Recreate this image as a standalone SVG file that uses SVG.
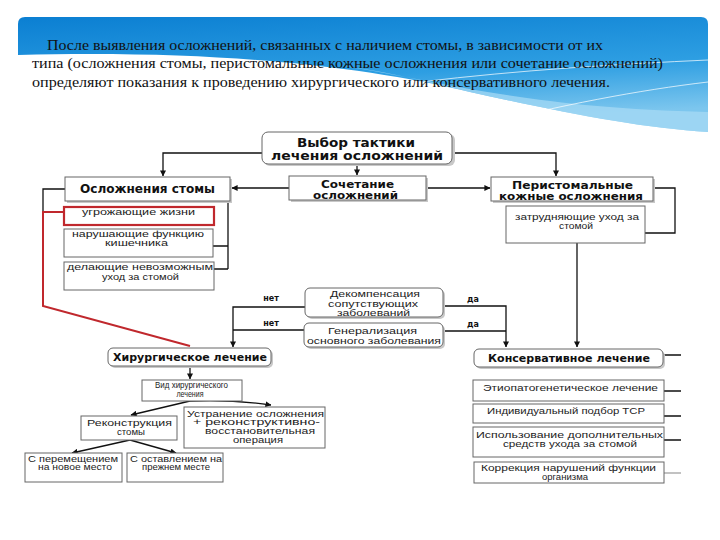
<svg xmlns="http://www.w3.org/2000/svg" width="720" height="540" viewBox="0 0 720 540">
<defs>
<linearGradient id="bg" x1="0" y1="0" x2="0.3" y2="1">
<stop offset="0" stop-color="#0b7fd2"/>
<stop offset="0.6" stop-color="#2d9ee2"/>
<stop offset="1" stop-color="#7cc6ee"/>
</linearGradient>
<marker id="ar" viewBox="0 0 8 8" refX="7.5" refY="4" markerWidth="6" markerHeight="6" orient="auto" markerUnits="userSpaceOnUse">
<path d="M0,0 L8,4 L0,8 Z" fill="#111"/>
</marker>
<style>
.hd{font-family:"Liberation Serif","Times New Roman",serif;font-size:14px;fill:#111}
.b{fill:#fff;stroke:#666;stroke-width:1}
.sh{fill:#c8c8c8}
.red{fill:#fff;stroke:#c0282d;stroke-width:2.2}
.tb{font-family:"DejaVu Sans",Verdana,sans-serif;font-weight:bold;fill:#111;text-anchor:middle}
.t{font-family:"Liberation Sans",Arial,sans-serif;fill:#222;text-anchor:middle;font-size:8.5px}
.ln{fill:none;stroke:#111;stroke-width:1.3}
.lg{fill:none;stroke:#999;stroke-width:1.2}
.lr{fill:none;stroke:#c0282d;stroke-width:2}
</style>
</defs>
<rect width="720" height="540" fill="#fff"/>
<g id="banner">
<path d="M18,24 Q18,17 25,17 H701 Q708,17 708,24 V132 C640,128 560,112 470,92 C360,66 220,50 18,55 Z" fill="url(#bg)"/>
<path d="M330,64 C430,78 520,108 708,112 V132 C640,128 560,112 470,92 C420,80 380,70 330,64 Z" fill="#a9dcf5" opacity="0.7"/>
<path d="M420,82 C520,70 620,64 708,60" fill="none" stroke="#fff" stroke-width="1" opacity="0.7"/>
<path d="M470,128 C560,105 640,90 708,82" fill="none" stroke="#fff" stroke-width="1" opacity="0.7"/>
<text class="hd" x="47" y="50" textLength="556" lengthAdjust="spacingAndGlyphs">После выявления осложнений, связанных с наличием стомы, в зависимости от их</text>
<text class="hd" x="32" y="68" textLength="631" lengthAdjust="spacingAndGlyphs">типа (осложнения стомы, перистомальные кожные осложнения или сочетание осложнений)</text>
<text class="hd" x="32" y="87" textLength="578" lengthAdjust="spacingAndGlyphs">определяют показания к проведению хирургического или консервативного лечения.</text>
</g>
<g id="connectors">
<path class="ln" d="M262,153 H163 V176" marker-end="url(#ar)"/>
<path class="ln" d="M357,164 V175" marker-end="url(#ar)"/>
<path class="ln" d="M452,153 H556 V176" marker-end="url(#ar)"/>
<path class="ln" d="M289,188 H232" marker-end="url(#ar)"/>
<path class="ln" d="M426,188 H490" marker-end="url(#ar)"/>
<path class="ln" d="M65,189 H43 V212"/>
<path class="ln" d="M228,201 V269 M213,246 H228 M214,269 H228"/>
<path class="lr" d="M64,212 H43 V306 L190,346"/>
<path class="ln" d="M653,188 H675 V233 H645"/>
<path class="ln" d="M577,243 V347" marker-end="url(#ar)"/>
<path class="ln" d="M305,307 H233 V347" marker-end="url(#ar)"/>
<path class="ln" d="M304,330 H233"/>
<path class="ln" d="M443,306 H506 V347" marker-end="url(#ar)"/>
<path class="ln" d="M443,331 H506"/>
<path class="ln" d="M190,366 V379" marker-end="url(#ar)"/>
<path class="ln" d="M190,401 L131,415" marker-end="url(#ar)"/>
<path class="ln" d="M190,401 Q230,399 271,405" marker-end="url(#ar)"/>
<path class="ln" d="M130,440 L72,453" marker-end="url(#ar)"/>
<path class="ln" d="M130,440 L176,453" marker-end="url(#ar)"/>
<path class="ln" d="M663,355 H681 M664,391 H681 M664,416 H681 M664,440 H681"/>
<path class="lg" d="M664,473 H681"/>
</g>
<g id="n-top">
<rect class="sh" x="264" y="134" width="191" height="32" rx="6"/>
<rect class="b" x="262" y="132" width="190" height="32" rx="6"/>
<text class="tb" x="356" y="146.5" font-size="12" textLength="118" lengthAdjust="spacingAndGlyphs">Выбор тактики</text>
<text class="tb" x="357" y="160" font-size="12" textLength="172" lengthAdjust="spacingAndGlyphs">лечения осложнений</text>
</g>
<g id="n-stoma">
<rect class="sh" x="67" y="179" width="165" height="24"/>
<rect class="b" x="65" y="177" width="165" height="24"/>
<text class="tb" x="147.5" y="193" font-size="11.5" textLength="135" lengthAdjust="spacingAndGlyphs">Осложнения стомы</text>
</g>
<g id="n-combo">
<rect class="sh" x="291" y="178" width="137" height="24"/>
<rect class="b" x="289" y="176" width="137" height="24"/>
<text class="tb" x="357.5" y="188" font-size="10" textLength="73" lengthAdjust="spacingAndGlyphs">Сочетание</text>
<text class="tb" x="355.5" y="199" font-size="10" textLength="85" lengthAdjust="spacingAndGlyphs">осложнений</text>
</g>
<g id="n-peri">
<rect class="sh" x="493" y="179" width="162" height="24"/>
<rect class="b" x="491" y="177" width="162" height="24"/>
<text class="tb" x="572.5" y="189" font-size="10" textLength="121" lengthAdjust="spacingAndGlyphs">Перистомальные</text>
<text class="tb" x="571" y="199.5" font-size="10" textLength="144" lengthAdjust="spacingAndGlyphs">кожные осложнения</text>
</g>
<g id="n-care">
<rect class="b" x="506" y="206" width="139" height="37"/>
<text class="t" x="577" y="220" textLength="124" lengthAdjust="spacingAndGlyphs">затрудняющие уход за</text>
<text class="t" x="576" y="229" textLength="34" lengthAdjust="spacingAndGlyphs">стомой</text>
</g>
<g id="n-life">
<rect class="red" x="64" y="207" width="150" height="18"/>
<text class="t" x="138.5" y="215" textLength="113" lengthAdjust="spacingAndGlyphs">угрожающие жизни</text>
</g>
<g id="n-bowel">
<rect class="b" x="64" y="229" width="149" height="28"/>
<text class="t" x="138" y="237" textLength="132" lengthAdjust="spacingAndGlyphs">нарушающие функцию</text>
<text class="t" x="136.5" y="246" textLength="63" lengthAdjust="spacingAndGlyphs">кишечника</text>
</g>
<g id="n-impossible">
<rect class="b" x="64" y="262" width="150" height="28"/>
<text class="t" x="140" y="270" textLength="146" lengthAdjust="spacingAndGlyphs">делающие невозможным</text>
<text class="t" x="140.5" y="280" textLength="77" lengthAdjust="spacingAndGlyphs">уход за стомой</text>
</g>
<g id="n-decomp">
<rect class="sh" x="307" y="290" width="138" height="29" rx="5"/>
<rect class="b" x="305" y="288" width="138" height="29" rx="5"/>
<text class="t" x="375" y="297" textLength="90" lengthAdjust="spacingAndGlyphs">Декомпенсация</text>
<text class="t" x="373" y="306.5" textLength="90" lengthAdjust="spacingAndGlyphs">сопутствующих</text>
<text class="t" x="373.5" y="315.5" textLength="73" lengthAdjust="spacingAndGlyphs">заболеваний</text>
</g>
<g id="n-general">
<rect class="sh" x="306" y="325" width="139" height="24" rx="5"/>
<rect class="b" x="304" y="323" width="139" height="24" rx="5"/>
<text class="t" x="372.5" y="333.5" textLength="89" lengthAdjust="spacingAndGlyphs">Генерализация</text>
<text class="t" x="374" y="343.5" textLength="134" lengthAdjust="spacingAndGlyphs">основного заболевания</text>
</g>
<g id="labels">
<text class="tb" x="271" y="301" font-size="8">нет</text>
<text class="tb" x="271" y="326" font-size="8">нет</text>
<text class="tb" x="473" y="302" font-size="8">да</text>
<text class="tb" x="473" y="327" font-size="8">да</text>
</g>
<g id="n-surg">
<rect class="sh" x="110" y="350" width="163" height="18" rx="5"/>
<rect class="b" x="108" y="348" width="163" height="18" rx="5"/>
<text class="tb" x="190" y="361" font-size="11" textLength="154" lengthAdjust="spacingAndGlyphs">Хирургическое лечение</text>
</g>
<g id="n-cons">
<rect class="sh" x="476" y="351" width="189" height="18" rx="5"/>
<rect class="b" x="474" y="349" width="189" height="18" rx="5"/>
<text class="tb" x="569" y="361.5" font-size="10.5" textLength="162" lengthAdjust="spacingAndGlyphs">Консервативное лечение</text>
</g>
<g id="n-type">
<rect class="b" x="142" y="380" width="100" height="21"/>
<text class="t" x="191.5" y="388" font-size="8" textLength="73" lengthAdjust="spacingAndGlyphs">Вид хирургического</text>
<text class="t" x="190" y="397" font-size="8" textLength="27" lengthAdjust="spacingAndGlyphs">лечения</text>
</g>
<g id="n-recon">
<rect class="b" x="81" y="416" width="96" height="24"/>
<text class="t" x="129.5" y="425.5" font-size="9" textLength="85" lengthAdjust="spacingAndGlyphs">Реконструкция</text>
<text class="t" x="131" y="434.5" font-size="9" textLength="28" lengthAdjust="spacingAndGlyphs">стомы</text>
</g>
<g id="n-elim">
<rect class="b" x="184" y="407" width="141" height="41"/>
<text class="t" x="255.5" y="416.5" textLength="137" lengthAdjust="spacingAndGlyphs">Устранение осложнения</text>
<text class="t" x="256.5" y="425" textLength="127" lengthAdjust="spacingAndGlyphs">+   реконструктивно-</text>
<text class="t" x="260" y="433.5" textLength="110" lengthAdjust="spacingAndGlyphs">восстановительная</text>
<text class="t" x="258" y="442.5" textLength="50" lengthAdjust="spacingAndGlyphs">операция</text>
</g>
<g id="n-move">
<rect class="b" x="25" y="453" width="97" height="29"/>
<text class="t" x="73" y="461.5" font-size="8" textLength="90" lengthAdjust="spacingAndGlyphs">С перемещением</text>
<text class="t" x="75" y="470" font-size="8" textLength="74" lengthAdjust="spacingAndGlyphs">на новое место</text>
</g>
<g id="n-keep">
<rect class="b" x="127" y="453" width="96" height="29"/>
<text class="t" x="176" y="461.5" font-size="8" textLength="92" lengthAdjust="spacingAndGlyphs">С оставлением на</text>
<text class="t" x="176" y="470" font-size="8" textLength="68" lengthAdjust="spacingAndGlyphs">прежнем месте</text>
</g>
<g id="n-etio">
<rect class="b" x="473" y="380" width="191" height="21"/>
<text class="t" x="570.5" y="390.5" textLength="175" lengthAdjust="spacingAndGlyphs">Этиопатогенетическое лечение</text>
</g>
<g id="n-tsr">
<rect class="b" x="473" y="404" width="191" height="19"/>
<text class="t" x="566" y="413.5" textLength="158" lengthAdjust="spacingAndGlyphs">Индивидуальный подбор ТСР</text>
</g>
<g id="n-extra">
<rect class="b" x="473" y="427" width="191" height="30"/>
<text class="t" x="569.5" y="437.5" textLength="187" lengthAdjust="spacingAndGlyphs">Использование дополнительных</text>
<text class="t" x="570" y="446.5" textLength="134" lengthAdjust="spacingAndGlyphs">средств ухода за стомой</text>
</g>
<g id="n-correct">
<rect class="b" x="474" y="462" width="190" height="21" stroke="#999"/>
<text class="t" x="568.5" y="470.5" textLength="175" lengthAdjust="spacingAndGlyphs">Коррекция нарушений функции</text>
<text class="t" x="565" y="479.5" textLength="46" lengthAdjust="spacingAndGlyphs">организма</text>
</g>
</svg>
